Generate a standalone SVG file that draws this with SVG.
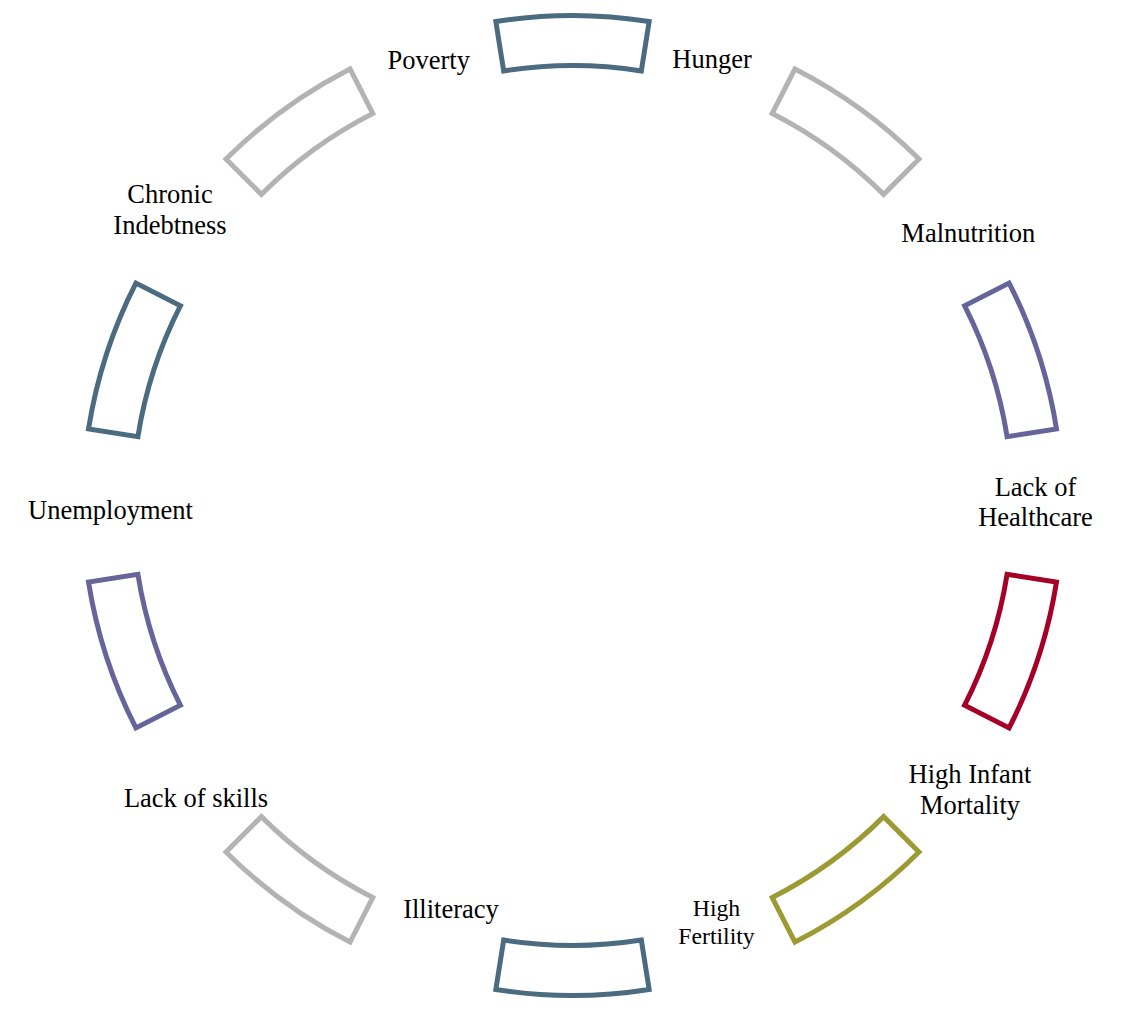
<svg xmlns="http://www.w3.org/2000/svg" width="1123" height="1013" viewBox="0 0 1123 1013">
<style>
.seg{fill:none;stroke-width:5;stroke-linejoin:miter}
.slate{stroke:#4B6B80}
.gray{stroke:#B3B3B3}
.purple{stroke:#67649A}
.red{stroke:#A50026}
.olive{stroke:#9C9A32}
.lbl{font-family:"Liberation Serif","Times New Roman",serif;font-size:26.5px;fill:#000;text-anchor:middle}
.sm{font-size:23.7px}
</style>
<rect width="1123" height="1013" fill="#fff"/>
<g id="connectors">
<path id="seg0" class="seg slate" d="M495.85,21.53 A490,490 0 0 1 649.15,21.53 L641.33,70.92 A440,440 0 0 0 503.67,70.92 Z"/>
<path id="seg1" class="seg gray" d="M794.96,68.91 A490,490 0 0 1 918.98,159.02 L883.63,194.37 A440,440 0 0 0 772.26,113.46 Z"/>
<path id="seg2" class="seg purple" d="M1009.09,283.04 A490,490 0 0 1 1056.47,428.85 L1007.08,436.67 A440,440 0 0 0 964.54,305.74 Z"/>
<path id="seg3" class="seg red" d="M1056.47,582.15 A490,490 0 0 1 1009.09,727.96 L964.54,705.26 A440,440 0 0 0 1007.08,574.33 Z"/>
<path id="seg4" class="seg olive" d="M918.98,851.98 A490,490 0 0 1 794.96,942.09 L772.26,897.54 A440,440 0 0 0 883.63,816.63 Z"/>
<path id="seg5" class="seg slate" d="M649.15,989.47 A490,490 0 0 1 495.85,989.47 L503.67,940.08 A440,440 0 0 0 641.33,940.08 Z"/>
<path id="seg6" class="seg gray" d="M350.04,942.09 A490,490 0 0 1 226.02,851.98 L261.37,816.63 A440,440 0 0 0 372.74,897.54 Z"/>
<path id="seg7" class="seg purple" d="M135.91,727.96 A490,490 0 0 1 88.53,582.15 L137.92,574.33 A440,440 0 0 0 180.46,705.26 Z"/>
<path id="seg8" class="seg slate" d="M88.53,428.85 A490,490 0 0 1 135.91,283.04 L180.46,305.74 A440,440 0 0 0 137.92,436.67 Z"/>
<path id="seg9" class="seg gray" d="M226.02,159.02 A490,490 0 0 1 350.04,68.91 L372.74,113.46 A440,440 0 0 0 261.37,194.37 Z"/>
</g>
<g id="node-hunger"><text class="lbl" x="712" y="68.3">Hunger</text></g>
<g id="node-malnutrition"><text class="lbl" x="968.3" y="242.3">Malnutrition</text></g>
<g id="node-healthcare"><text class="lbl" x="1035.5" y="495.7">Lack of</text><text class="lbl" x="1035.5" y="526.3">Healthcare</text></g>
<g id="node-mortality"><text class="lbl" x="970" y="782.7">High Infant</text><text class="lbl" x="970" y="814">Mortality</text></g>
<g id="node-fertility"><text class="lbl sm" x="716.5" y="916">High</text><text class="lbl sm" x="716.5" y="944">Fertility</text></g>
<g id="node-illiteracy"><text class="lbl" x="451" y="918.3">Illiteracy</text></g>
<g id="node-skills"><text class="lbl" x="196" y="806.7">Lack of skills</text></g>
<g id="node-unemployment"><text class="lbl" x="110.5" y="519">Unemployment</text></g>
<g id="node-indebtness"><text class="lbl" x="170" y="203">Chronic</text><text class="lbl" x="170" y="234">Indebtness</text></g>
<g id="node-poverty"><text class="lbl" x="428.7" y="69.3">Poverty</text></g>
</svg>
